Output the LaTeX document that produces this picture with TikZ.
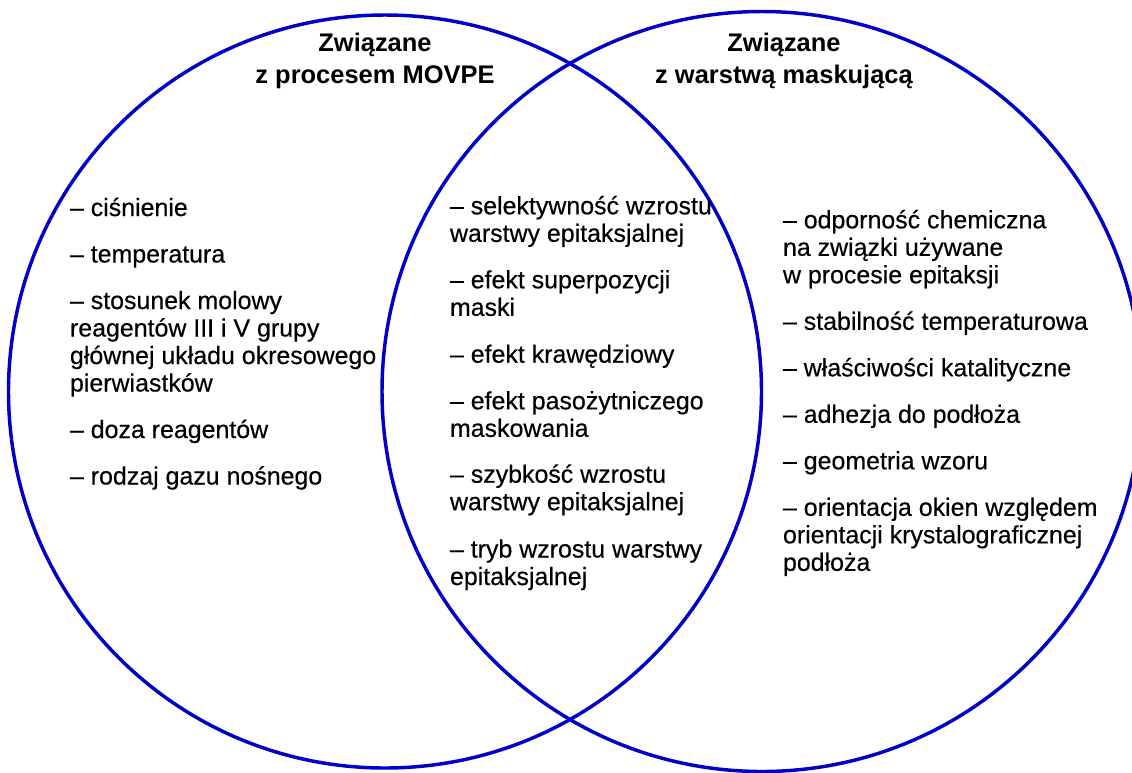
\documentclass[tikz,border=0pt]{standalone}
\usepackage{fontspec}
\setmainfont{Liberation Sans}
\newfontfamily\bodyfont{Liberation Sans}[FakeBold=0.35]
\definecolor{vennblue}{RGB}{0,0,200}
\newcommand{\itm}[1]{\begin{tabular}[t]{@{}l@{}}#1\end{tabular}}
\newcommand{\ttl}[1]{\begin{tabular}[t]{@{}c@{}}#1\end{tabular}}
\begin{document}
\begin{tikzpicture}[x=0.75pt,y=-0.75pt,
  ring/.style={draw=vennblue,line width=2.6pt},
  body/.style={anchor=base west,inner sep=0pt,outer sep=0pt,font=\bodyfont\fontsize{18.7pt}{20.625pt}\selectfont},
  head/.style={anchor=base,inner sep=0pt,outer sep=0pt,font=\fontsize{19.1pt}{23.7pt}\selectfont\bfseries}]
\useasboundingbox (0,0) rectangle (1132,772);
\fill[white] (0,0) rectangle (1132,772);
\draw[ring] (385,391.5) circle[radius=376.5];
\draw[ring] (762,391.5) circle[radius=380];
% titles
\node[head] (tl) at (375,51.7) {\ttl{Związane\\z procesem MOVPE}};
\node[head] (tr) at (784,51.7) {\ttl{Związane\\z warstwą maskującą}};
% left column
\node[body] (l1) at (70,216) {\itm{– ciśnienie}};
\node[body] (l2) at (70,262.5) {\itm{– temperatura}};
\node[body] (l3) at (70,309) {\itm{– stosunek molowy\\reagentów III i V grupy\\głównej układu okresowego\\pierwiastków}};
\node[body] (l4) at (70,438) {\itm{– doza reagentów}};
\node[body] (l5) at (70,484.5) {\itm{– rodzaj gazu nośnego}};
% middle column
\node[body] (m1) at (450,214.3) {\itm{– selektywność wzrostu\\warstwy epitaksjalnej}};
\node[body] (m2) at (450,288.3) {\itm{– efekt superpozycji\\maski}};
\node[body] (m3) at (450,362.7) {\itm{– efekt krawędziowy}};
\node[body] (m4) at (450,409.3) {\itm{– efekt pasożytniczego\\maskowania}};
\node[body] (m5) at (450,482.7) {\itm{– szybkość wzrostu\\warstwy epitaksjalnej}};
\node[body] (m6) at (450,557.5) {\itm{– tryb wzrostu warstwy\\epitaksjalnej}};
% right column
\node[body] (r1) at (783,228.3) {\itm{– odporność chemiczna\\na związki używane\\w procesie epitaksji}};
\node[body] (r2) at (783,329.8) {\itm{– stabilność temperaturowa}};
\node[body] (r3) at (783,376.3) {\itm{– właściwości katalityczne}};
\node[body] (r4) at (783,422.8) {\itm{– adhezja do podłoża}};
\node[body] (r5) at (783,469.3) {\itm{– geometria wzoru}};
\node[body] (r6) at (783,515.8) {\itm{– orientacja okien względem\\orientacji krystalograficznej\\podłoża}};
\end{tikzpicture}
\end{document}
